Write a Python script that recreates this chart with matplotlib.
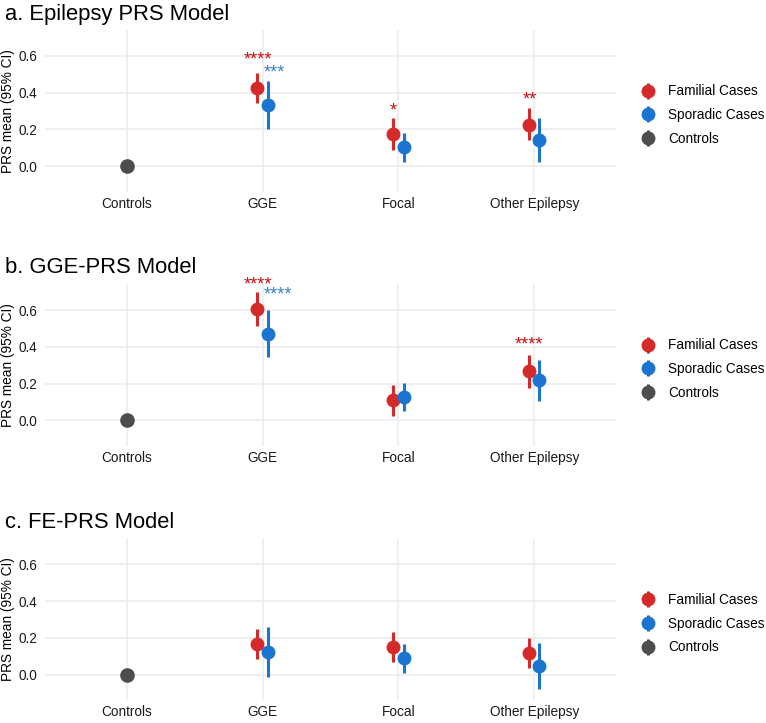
import numpy as np
import matplotlib
matplotlib.use("Agg")
import matplotlib.pyplot as plt
from matplotlib.lines import Line2D
from matplotlib.legend_handler import HandlerTuple
import matplotlib.transforms as mtransforms

plt.rcParams["font.family"] = ["Liberation Sans", "DejaVu Sans"]

categories = ["Controls", "GGE", "Focal", "Other Epilepsy"]
titles = ["a. Epilepsy PRS Model", "b. GGE-PRS Model", "c. FE-PRS Model"]

# mean, lower, upper for GGE, Focal, Other Epilepsy (controls sit at 0)
fam_mean = [[0.424, 0.173, 0.224], [0.604, 0.110, 0.268], [0.167, 0.152, 0.116]]
fam_lo   = [[0.342, 0.087, 0.142], [0.513, 0.025, 0.177], [0.085, 0.067, 0.035]]
fam_hi   = [[0.506, 0.260, 0.315], [0.696, 0.192, 0.355], [0.247, 0.231, 0.198]]
spo_mean = [[0.333, 0.102, 0.142], [0.470, 0.127, 0.219], [0.123, 0.089, 0.049]]
spo_lo   = [[0.200, 0.023, 0.020], [0.343, 0.050, 0.107], [-0.011, 0.007, -0.078]]
spo_hi   = [[0.464, 0.178, 0.260], [0.600, 0.201, 0.328], [0.258, 0.167, 0.171]]
ctrl_mean = [0.0, 0.0, 0.0]

# significance stars: (panel, category index, group, label, y)
stars = [
    (0, 1, "fam", "****", 0.610), (0, 1, "spo", "***", 0.540),
    (0, 2, "fam", "*", 0.333), (0, 3, "fam", "**", 0.390),
    (1, 1, "fam", "****", 0.767), (1, 1, "spo", "****", 0.714),
    (1, 3, "fam", "****", 0.442),
]

RED, BLUE, GREY = "#D42A2A", "#1B75D0", "#4D4D4D"
STAR_RED, STAR_BLUE = "#CC1010", "#3C80C8"
GRID = "#EBEBEB"
DODGE = 0.037

W, H = 766, 723
fig = plt.figure(figsize=(W / 100, H / 100), dpi=100)
ax_left, ax_right = 45, 616
tops = [30.2, 284.3, 538.7]
ax_h = 161.7
title_base = [20, 273, 528]

for p in range(3):
    ax = fig.add_axes([ax_left / W, 1 - (tops[p] + ax_h) / H, (ax_right - ax_left) / W, ax_h / H])
    ax.set_xlim(-0.6, 3.6)
    ax.set_ylim(-0.14, 0.74)
    for s in ax.spines.values():
        s.set_visible(False)
    ax.set_yticks([0.0, 0.2, 0.4, 0.6])
    ax.set_yticklabels(["0.0", "0.2", "0.4", "0.6"])
    ax.set_xticks(range(4))
    ax.set_xticklabels(categories)
    ax.tick_params(axis="both", length=0, labelsize=9.8, colors="#1a1a1a")
    ax.tick_params(axis="x", pad=3.5)
    ax.tick_params(axis="y", pad=5.5)
    ax.grid(True, color=GRID, lw=1.1)
    ax.set_axisbelow(True)
    ax.set_ylabel("PRS mean (95% CI)", fontsize=9.8)
    ax.yaxis.set_label_coords(-30 / 571, 0.5)

    xs = np.arange(1, 4)
    ax.vlines(xs - DODGE, fam_lo[p], fam_hi[p], color=RED, lw=2.2, zorder=3)
    ax.plot(xs - DODGE, fam_mean[p], "o", color=RED, ms=9, zorder=4)
    ax.vlines(xs + DODGE, spo_lo[p], spo_hi[p], color=BLUE, lw=2.2, zorder=3)
    ax.plot(xs + DODGE, spo_mean[p], "o", color=BLUE, ms=9, zorder=4)
    ax.plot([0], [ctrl_mean[p]], "o", color=GREY, ms=9.5, zorder=4)

    down = mtransforms.offset_copy(ax.transData, fig=fig, x=0, y=-7.5, units="points")
    for (pp, ci, grp, lab, y) in stars:
        if pp != p:
            continue
        if grp == "fam":
            ax.text(ci - DODGE, y, lab, color=STAR_RED, fontsize=13, ha="center",
                    va="baseline", transform=down, clip_on=False)
        else:
            ax.text(ci + 0.01, y, lab, color=STAR_BLUE, fontsize=13, ha="left",
                    va="baseline", transform=down, clip_on=False)

    handles = []
    for c in [RED, BLUE, GREY]:
        handles.append((Line2D([], [], marker="|", ls="none", color=c, ms=12, mew=2.2),
                        Line2D([], [], marker="o", ls="none", color=c, ms=9)))
    ax.legend(handles, ["Familial Cases", "Sporadic Cases", "Controls"],
              handler_map={tuple: HandlerTuple(ndivide=1, pad=0)},
              loc="center left", bbox_to_anchor=(1 + 22 / 571, 0.475),
              frameon=False, fontsize=9.8, borderaxespad=0, borderpad=0,
              handlelength=1.5, handletextpad=0.74, labelspacing=0.72)

    fig.text(5 / W, 1 - title_base[p] / H, titles[p], fontsize=15.8, va="baseline", ha="left")

fig.savefig("out.png", dpi=100)
